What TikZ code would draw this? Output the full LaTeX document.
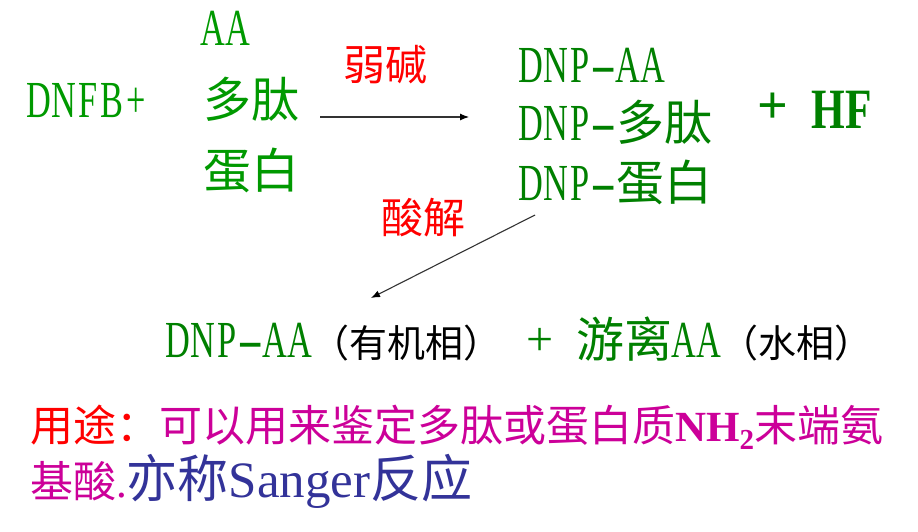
\documentclass[tikz,border=0pt]{standalone}
\usepackage{fontspec}
\usepackage{graphicx}
\usetikzlibrary{arrows.meta}
\setmainfont{Liberation Serif}
\newfontfamily\cjk{Noto Sans CJK SC}
\newfontfamily\lat{Liberation Serif}[FakeStretch=0.66]
\newfontfamily\latb{Liberation Serif}[FakeStretch=0.76]
\definecolor{gA}{HTML}{009900}
\definecolor{gB}{HTML}{008000}
\definecolor{rd}{HTML}{FF0000}
\definecolor{mg}{HTML}{CC0099}
\definecolor{bl}{HTML}{333399}
\definecolor{ln}{HTML}{333333}
\newlength\cellw
\setlength\cellw{24.3pt}
\makeatletter
\def\mono#1{\mono@#1\@nil}
\def\mono@#1{\ifx#1\@nil\else
  \ifx#1-\makebox[\cellw]{\scalebox{2.3}[1]{-}}\else\makebox[\cellw]{#1}\fi
  \expandafter\mono@\fi}
\makeatother
\newcommand\Lt[1]{{\lat\fontsize{52}{60}\selectfont\mono{#1}}}
\newcommand\Ck[1]{{\cjk\fontsize{48}{56}\selectfont #1}}
\newcommand\Pk[1]{{\cjk\fontsize{38}{44}\selectfont\color{black}#1}}
\newcommand\Rk[1]{{\cjk\fontsize{42}{48}\selectfont #1}}
\begin{document}
\begin{tikzpicture}[x=1pt,y=-1pt,
  txt/.style={inner sep=0pt, outer sep=0pt, anchor=base west},
  conn/.style={draw=ln, line width=1.1pt, -{Latex[length=9pt,width=7pt,color=black]}}]
\useasboundingbox (0,0) rectangle (918,531);
\fill[white] (0,0) rectangle (918,531);
% left reactants
\node[txt, text=gA] (dnfb) at (27,117) {\Lt{DNFB+}};
\node[txt, text=gA] (aa) at (201,45) {\Lt{AA}};
\node[txt, text=gA] (duotai) at (203,117) {\Ck{多肽}};
\node[txt, text=gA] (danbai) at (203,188) {\Ck{蛋白}};
% condition 1
\node[txt, text=rd] (ruojian) at (343,80) {\Rk{弱碱}};
% products
\node[txt, text=gB] (dnpaa) at (519,82) {\Lt{DNP-AA}};
\node[txt, text=gB] (dnpduotai) at (519,140) {\Lt{DNP-}\Ck{多肽}};
\node[txt, text=gB] (dnpdanbai) at (519,200) {\Lt{DNP-}\Ck{蛋白}};
\node[txt, text=gB] (hf) at (757,128) {{\rmfamily\bfseries\fontsize{54}{60}\selectfont\raisebox{5pt}{+}}\hspace{24pt}{\latb\bfseries\fontsize{57}{66}\selectfont HF}};
% condition 2
\node[txt, text=rd] (suanjie) at (381,233) {\Rk{酸解}};
% hydrolysis products
\node[txt, text=gB] (org) at (166,357) {\Lt{DNP-AA}\Pk{（有机相）}};
\node[txt, text=gB] (plus) at (526,355) {{\rmfamily\fontsize{48}{54}\selectfont +}};
\node[txt, text=gB] (aq) at (576,357) {\Ck{游离}\Lt{AA}\Pk{（水相）}};
% arrows
\coordinate (a1s) at (320,117);
\coordinate (a1e) at (469,117);
\coordinate (a2s) at (535,215);
\coordinate (a2e) at (371,298);
\draw[conn] (a1s) -- (a1e);
\draw[conn] (a2s) -- (a2e);
% note
\node[txt] (use1) at (30,441) {\cjk\fontsize{43}{50}\selectfont\textcolor{rd}{用途：}\textcolor{mg}{可以用来鉴定多肽或蛋白质{\rmfamily\bfseries NH\raisebox{-8pt}{\fontsize{29}{30}\selectfont 2}}末端氨}};
\node[txt] (use2) at (30,497) {\cjk\fontsize{43}{50}\selectfont\textcolor{mg}{基酸{\rmfamily .}}\textcolor{bl}{\fontsize{51}{58}\selectfont 亦称{\rmfamily Sanger}反应}};
\end{tikzpicture}
\end{document}
